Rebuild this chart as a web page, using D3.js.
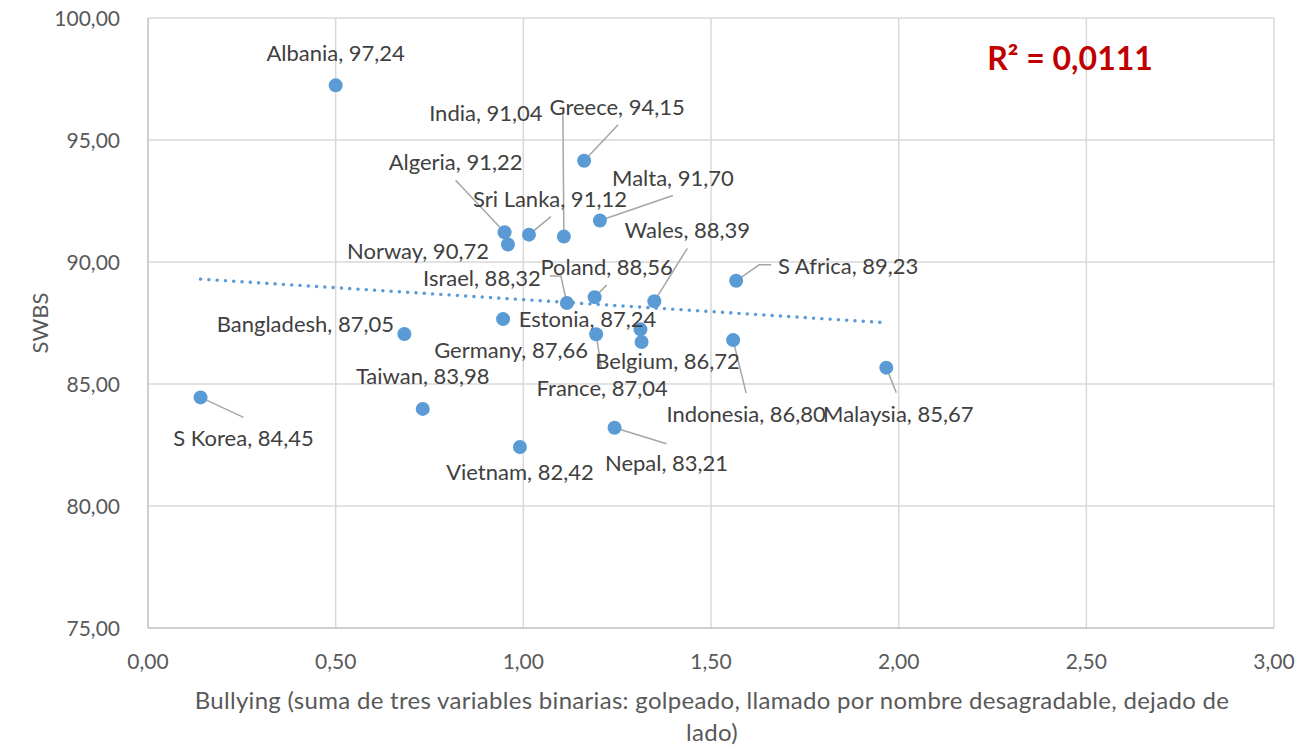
<!DOCTYPE html>
<html>
<head>
<meta charset="utf-8">
<script src="https://cdn.jsdelivr.net/npm/d3@7"></script>
<style>
  body { margin: 0; background: #fff; }
  svg { display: block; font-family: Lato, "Open Sans", sans-serif; }
</style>
</head>
<body>
<svg id="chart" width="1297" height="746"></svg>
<script>
// Data
const countries = ["Albania", "India", "Greece", "Algeria", "Sri Lanka", "Malta", "Norway",
  "Wales", "Poland", "Israel", "S Africa", "Estonia", "Germany", "Belgium", "France",
  "Bangladesh", "Taiwan", "S Korea", "Vietnam", "Nepal", "Indonesia", "Malaysia"];
const bullying = [0.50, 1.108, 1.162, 0.950, 1.015, 1.204, 0.959,
  1.349, 1.190, 1.116, 1.567, 1.312, 0.946, 1.315, 1.194,
  0.683, 0.732, 0.140, 0.991, 1.243, 1.559, 1.967];
const swbs = [97.24, 91.04, 94.15, 91.22, 91.12, 91.70, 90.72,
  88.39, 88.56, 88.32, 89.23, 87.24, 87.66, 86.72, 87.04,
  87.05, 83.98, 84.45, 82.42, 83.21, 86.80, 85.67];
const xTicks = [0, 0.5, 1, 1.5, 2, 2.5, 3];
const yTicks = [75, 80, 85, 90, 95, 100];
const rSquaredText = "R² = 0,0111";
const xTitle = ["Bullying (suma de tres variables binarias: golpeado, llamado por nombre desagradable, dejado de", "lado)"];
const yTitle = "SWBS";

// label placement (pixel offsets from the point): [dx, dy] of label, leader path points
const labelOffset = [[0, -24], [-78, -116], [33, -46], [-49, -62], [21, -28], [73, -35], [-90, 15],
  [33, -63], [12, -22], [-85, -17], [112, -7], [-53, -2], [8, 39], [26, 27], [6, 62],
  [-99, -2], [0, -25], [43, 49], [0, 33], [52, 43], [13, 82], [12, 54]];
const leaders = [null, [[-1, -125]], [[34, -36]], [[-49, -52]], [[22, -18]], [[73, -25]], null,
  [[33, -53]], [[12, -12]], [[-6, -27], [-17, -27]], [[23, -16], [35, -16]], null, null, null, [[5, 33]],
  null, null, [[43, 20]], null, [[52, 16]], [[13, 53]], [[10, 25]]];

const points = countries.map((c, i) => ({name: c, x: bullying[i], y: swbs[i]}));

const width = 1297, height = 746;
const margin = {left: 148, right: 23, top: 18, bottom: 118};

const svg = d3.select("#chart");

const x = d3.scaleLinear().domain([0, 3]).range([margin.left, width - margin.right]);
const y = d3.scaleLinear().domain([75, 100]).range([height - margin.bottom, margin.top]);

const fmt = v => d3.format(".2f")(v).replace(".", ",");

// gridlines
svg.append("g").selectAll("line")
  .data(xTicks.filter(d => d > 0))
  .join("line")
  .attr("x1", d => x(d)).attr("x2", d => x(d))
  .attr("y1", y(75)).attr("y2", y(100))
  .attr("stroke", "#d9d9d9").attr("stroke-width", 1.5);

svg.append("g").selectAll("line")
  .data(yTicks.filter(d => d > 75))
  .join("line")
  .attr("x1", x(0)).attr("x2", x(3))
  .attr("y1", d => y(d)).attr("y2", d => y(d))
  .attr("stroke", "#d9d9d9").attr("stroke-width", 1.5);

// axis lines
svg.append("line")
  .attr("x1", x(0)).attr("x2", x(0)).attr("y1", y(75)).attr("y2", y(100))
  .attr("stroke", "#bfbfbf").attr("stroke-width", 1.5);
svg.append("line")
  .attr("x1", x(0)).attr("x2", x(3)).attr("y1", y(75)).attr("y2", y(75))
  .attr("stroke", "#bfbfbf").attr("stroke-width", 1.5);

// tick labels
svg.append("g").selectAll("text")
  .data(xTicks)
  .join("text")
  .attr("x", d => x(d))
  .attr("y", y(75) + 41)
  .attr("text-anchor", "middle")
  .attr("font-size", 21)
  .attr("fill", "#595959")
  .text(fmt);

svg.append("g").selectAll("text")
  .data(yTicks)
  .join("text")
  .attr("x", x(0) - 28)
  .attr("y", d => y(d) + 7.5)
  .attr("text-anchor", "end")
  .attr("font-size", 21)
  .attr("fill", "#595959")
  .text(fmt);

// axis titles
svg.append("g").selectAll("text")
  .data(xTitle)
  .join("text")
  .attr("x", 712)
  .attr("y", (d, i) => 709 + i * 32)
  .attr("text-anchor", "middle")
  .attr("font-size", 24)
  .attr("letter-spacing", 0.3)
  .attr("fill", "#595959")
  .text(d => d);

svg.append("text")
  .attr("transform", `translate(48,${(y(75) + y(100)) / 2}) rotate(-90)`)
  .attr("text-anchor", "middle")
  .attr("font-size", 22)
  .attr("fill", "#595959")
  .text(yTitle);

// linear trend line from the data
const mx = d3.mean(bullying), my = d3.mean(swbs);
const slope = d3.sum(bullying, (v, i) => (v - mx) * (swbs[i] - my)) / d3.sum(bullying, v => (v - mx) ** 2);
const icpt = my - slope * mx;
const [x0, x1] = d3.extent(bullying);

svg.append("line")
  .attr("x1", x(x0)).attr("y1", y(icpt + slope * x0))
  .attr("x2", x(x1)).attr("y2", y(icpt + slope * x1))
  .attr("stroke", "#5b9bd5")
  .attr("stroke-width", 3.4)
  .attr("stroke-linecap", "round")
  .attr("stroke-dasharray", "0.1 8.2");

// leader lines
const line = d3.line();
svg.append("g").selectAll("path")
  .data(points.filter((d, i) => leaders[i]))
  .join("path")
  .attr("d", d => {
    const i = points.indexOf(d);
    const px = x(d.x), py = y(d.y);
    return line([[px, py], ...leaders[i].map(o => [px + o[0], py + o[1]])]);
  })
  .attr("fill", "none")
  .attr("stroke", "#a6a6a6")
  .attr("stroke-width", 1.5);

// points
svg.append("g").selectAll("circle")
  .data(points)
  .join("circle")
  .attr("cx", d => x(d.x))
  .attr("cy", d => y(d.y))
  .attr("r", 7)
  .attr("fill", "#5b9bd5");

// data labels
svg.append("g").selectAll("text")
  .data(points)
  .join("text")
  .attr("x", (d, i) => x(d.x) + labelOffset[i][0])
  .attr("y", (d, i) => y(d.y) + labelOffset[i][1])
  .attr("text-anchor", "middle")
  .attr("font-size", 22)
  .attr("fill", "#404040")
  .text(d => `${d.name}, ${fmt(d.y)}`);

// R squared
svg.append("text")
  .attr("x", 1070)
  .attr("y", 70)
  .attr("text-anchor", "middle")
  .attr("font-size", 32)
  .attr("font-weight", "bold")
  .attr("fill", "#c00000")
  .text(rSquaredText);
</script>
</body>
</html>
